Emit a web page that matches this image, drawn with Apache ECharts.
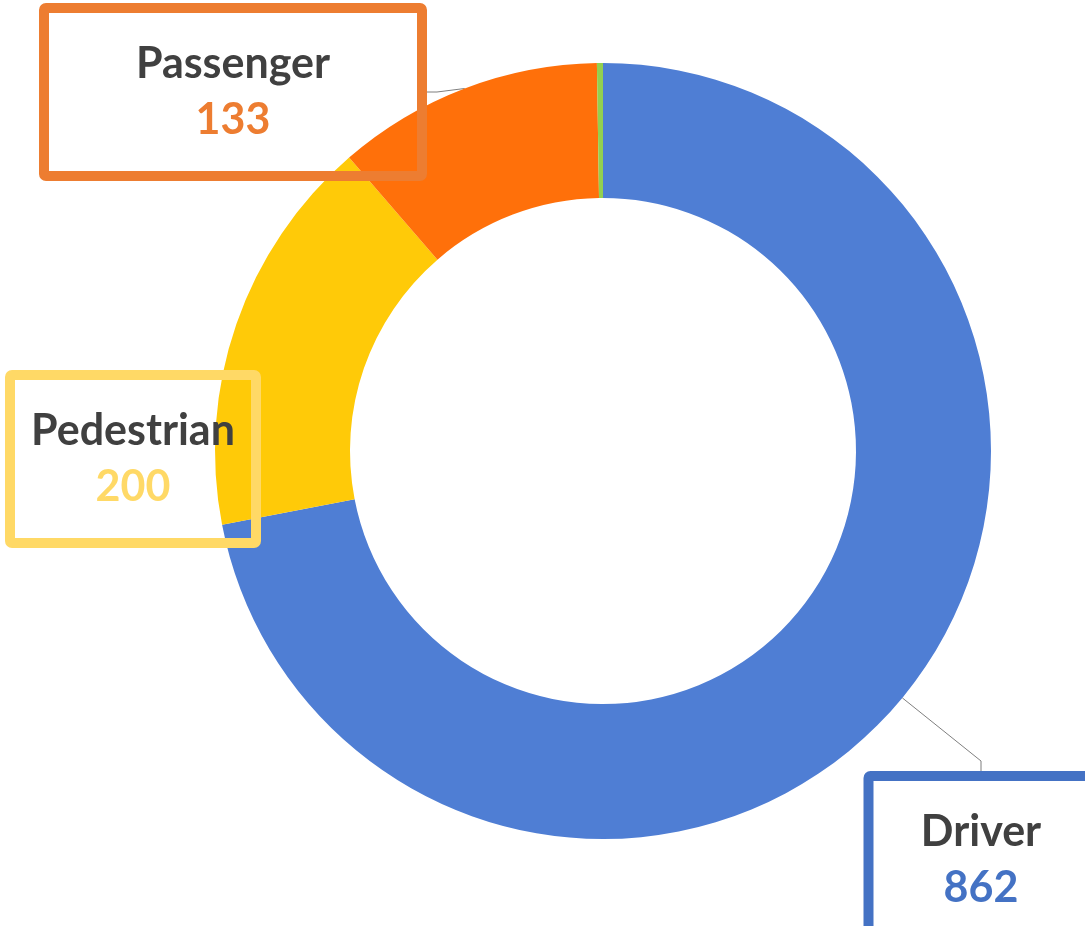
<!DOCTYPE html>
<html>
<head>
<meta charset="utf-8">
<script src="https://cdn.jsdelivr.net/npm/echarts@6/dist/echarts.min.js"></script>
<style>
    html, body { margin: 0; padding: 0; background: #fff; }
    #chart { width: 1085px; height: 926px; }
</style>
</head>
<body>
<div id="chart"></div>
<script>
    // 数据
    const categories = ['Driver', 'Pedestrian', 'Passenger', 'Other']
    const values = [862, 200, 133, 3]
    const sliceColors = ['#4F7ED4', '#FFCA08', '#FF700A', '#92D050']
    const labelColors = ['#4472C4', '#FFD966', '#ED7D31', '#92D050']

    // 标签框位置 (中心点) 和尺寸
    const labelBoxes = [
        { x: 981, y: 860, w: 225 },
        { x: 133, y: 459, w: 246 },
        { x: 233, y: 92, w: 378 },
        null
    ]

    let chart = echarts.init(document.getElementById('chart'))

    let seriesData = categories.map((name, i) => {
        let box = labelBoxes[i]
        return {
            name: name,
            value: values[i],
            itemStyle: { color: sliceColors[i] },
            label: box ? {
                show: true,
                width: box.w,
                padding: [28, 0],
                borderColor: labelColors[i],
                borderWidth: 5,
                borderRadius: 2,
                backgroundColor: 'transparent',
                formatter: '{n|{b}}\n{v|{c}}',
                rich: {
                    n: { fontSize: 43, fontWeight: 'bold', color: '#404040', lineHeight: 56, align: 'center', fontFamily: 'Lato' },
                    v: { fontSize: 43, fontWeight: 'bold', color: labelColors[i], lineHeight: 56, align: 'center', fontFamily: 'Lato' }
                }
            } : { show: false },
            labelLine: { show: i === 0 || i === 2 }
        }
    })

    chart.setOption({
        animation: false,
        series: [{
            type: 'pie',
            center: [603, 451],
            radius: [253, 388],
            startAngle: 90,
            clockwise: true,
            avoidLabelOverlap: false,
            itemStyle: { borderWidth: 0 },
            label: { position: 'outside' },
            labelLine: {
                lineStyle: { color: '#7F7F7F', width: 1 },
                length: 10,
                length2: 10
            },
            labelLayout: function (params) {
                let box = labelBoxes[params.dataIndex]
                if (!box) return {}
                return { x: box.x, y: box.y, align: 'center', verticalAlign: 'middle' }
            },
            emphasis: { disabled: true },
            data: seriesData
        }]
    })
</script>
</body>
</html>
